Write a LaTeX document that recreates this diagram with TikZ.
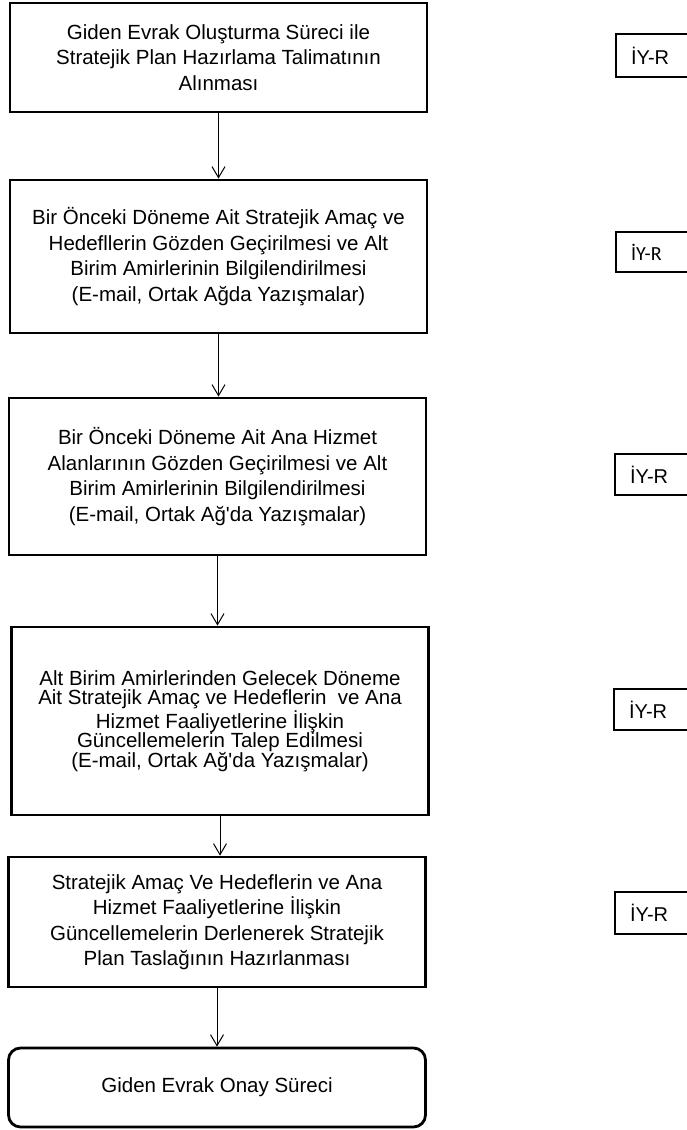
\documentclass[tikz,border=0pt]{standalone}
\usepackage{fontspec}
\newfontfamily\arialf{Liberation Sans}
\newfontfamily\calib{Carlito}
\usetikzlibrary{arrows.meta}
\begin{document}
\begin{tikzpicture}[x=1pt,y=-1pt,
  proc/.style={draw, line width=2.8pt, align=center, inner sep=0pt,
    font=\arialf\fontsize{20.5}{25.5}\selectfont, minimum width=417pt},
  tag/.style={draw, line width=2pt, anchor=west, inner xsep=15pt, inner ysep=0pt,
    text width=70pt, align=left, font=\arialf\fontsize{20}{24}\selectfont},
  flow/.style={-{Straight Barb[length=11pt,width=13pt]}, line width=1pt}]
\clip (0,0) rectangle (687,1130);
\fill[white] (0,0) rectangle (687,1130);
\node[proc, minimum height=109pt] (b1) at (218.5,57.5)
  {Giden Evrak Oluşturma Süreci ile\\Stratejik Plan Hazırlama Talimatının\\Alınması};
\node[proc, minimum height=153pt] (b2) at (218.5,256.5)
  {Bir Önceki Döneme Ait Stratejik Amaç ve\\Hedefllerin Gözden Geçirilmesi ve Alt\\Birim Amirlerinin Bilgilendirilmesi\\(E-mail, Ortak Ağda Yazışmalar)};
\node[proc, minimum height=157pt] (b3) at (217.5,476.5)
  {Bir Önceki Döneme Ait Ana Hizmet\\Alanlarının Gözden Geçirilmesi ve Alt\\Birim Amirlerinin Bilgilendirilmesi\\(E-mail, Ortak Ağ'da Yazışmalar)};
\node[proc, minimum height=188pt, font=\arialf\fontsize{20.5}{19.5}\selectfont] (b4) at (220,721)
  {Alt Birim Amirlerinden Gelecek Döneme\\Ait Stratejik Amaç ve Hedeflerin\ \ ve Ana\\Hizmet Faaliyetlerine İlişkin\\Güncellemelerin Talep Edilmesi\\(E-mail, Ortak Ağ'da Yazışmalar)};
\node[proc, minimum height=130pt] (b5) at (217,922)
  {Stratejik Amaç Ve Hedeflerin ve Ana\\Hizmet Faaliyetlerine İlişkin\\Güncellemelerin Derlenerek Stratejik\\Plan Taslağının Hazırlanması};
\node[proc, minimum height=79pt, rounded corners=12pt] (b6) at (217,1087.5)
  {Giden Evrak Onay Süreci};
\draw[flow] (b1.south) -- (b1.south |- b2.north);
\draw[flow] (b2.south) -- (b2.south |- b3.north);
\draw[flow] (b3.south) -- (b3.south |- b4.north);
\draw[flow] (b4.south) -- (b4.south |- b5.north);
\draw[flow] (b5.south) -- (b5.south |- b6.north);
\node[tag, minimum height=43pt] (t1) at (615,55.5) {İY-R};
\node[tag, minimum height=40pt, font=\calib\fontsize{20}{24}\selectfont] (t2) at (615,252) {İY-R};
\node[tag, minimum height=41pt] (t3) at (614,474.5) {İY-R};
\node[tag, minimum height=41pt] (t4) at (613,709.5) {İY-R};
\node[tag, minimum height=42pt] (t5) at (614,913) {İY-R};
\end{tikzpicture}
\end{document}
